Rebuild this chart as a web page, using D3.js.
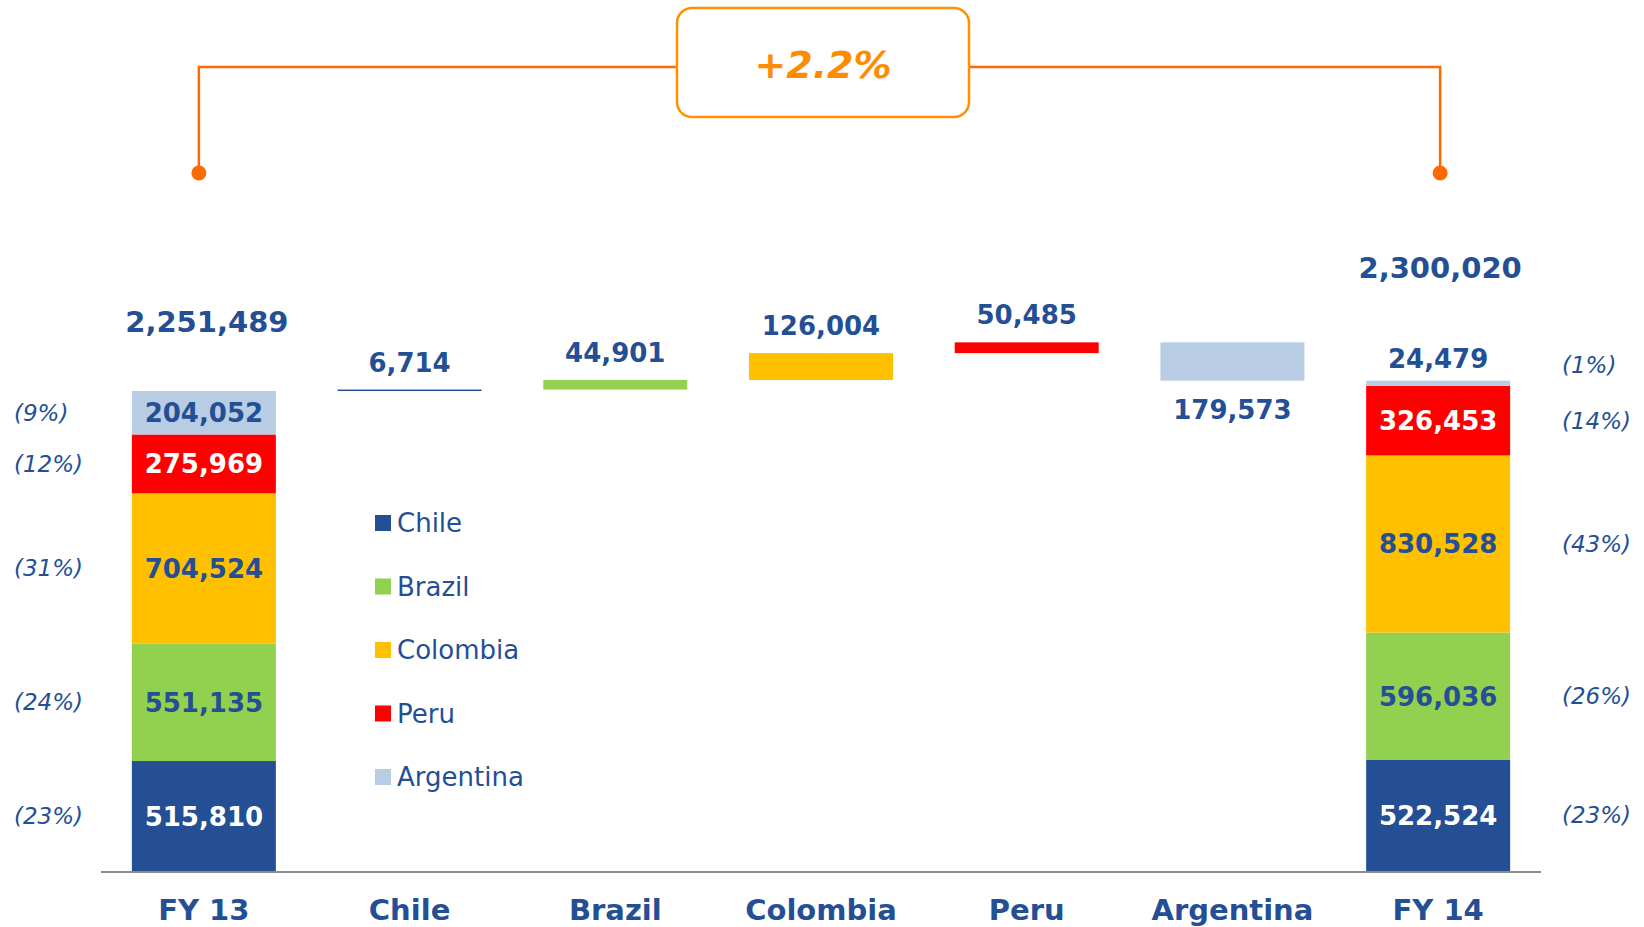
<!DOCTYPE html>
<html lang="en">
	<head>
		<meta charset="utf-8">
		<title>FY13 - FY14 bridge</title>
		<script type="text/javascript" src="https://cdn.jsdelivr.net/npm/d3@7"></script>
		<style type="text/css">
			body{
				margin: 0;
				background: #fff;
			}
		</style>
	</head>
	<body>
		<script type="text/javascript">

			// data
			var categories = ["FY 13", "Chile", "Brazil", "Colombia", "Peru", "Argentina", "FY 14"];
			var countries = ["Chile", "Brazil", "Colombia", "Peru", "Argentina"];
			var fy13 = [515810, 551135, 704524, 275969, 204052];
			var fy14 = [522524, 596036, 830528, 326453, 24479];
			var fy13Pct = ["(23%)", "(24%)", "(31%)", "(12%)", "(9%)"];
			var fy14Pct = ["(23%)", "(26%)", "(43%)", "(14%)", "(1%)"];
			var totals = [2251489, 2300020];
			var changes = [6714, 44901, 126004, 50485, -179573];
			var growthLabel = "+2.2%";

			var colors = ["#244f94", "#92d050", "#ffc000", "#ff0000", "#b8cce4"];
			var labelColors = ["#fff", "#244f94", "#244f94", "#fff", "#244f94"];
			var blue = "#244f94";
			var font = "DejaVu Sans, Verdana, sans-serif";

			var W = 1644, H = 927;
			var svg = d3.select("body")
						.append("svg")
						.attr("width", W)
						.attr("height", H);

			var x = d3.scaleBand()
						.domain(categories)
						.range([101, 1541])
						.paddingInner(0.3)
						.paddingOuter(0.15);

			var y = d3.scaleLinear()
						.domain([0, 2500000])
						.range([871, 338]);

			var bw = x.bandwidth();
			var fmt = d3.format(",");

			//stacked end bars
			function stackBar(cat, vals, pcts, pctX) {
				var cum = 0;
				var segs = vals.map(function(v, i) {
					var s = {i: i, v: v, y0: cum, y1: cum + v, pct: pcts[i]};
					cum += v;
					return s;
				});
				var g = svg.append("g").attr("class", "stack");
				g.selectAll("rect")
					.data(segs)
					.enter()
					.append("rect")
					.attr("x", x(cat))
					.attr("y", function(d) {return y(d.y1);})
					.attr("width", bw)
					.attr("height", function(d) {return y(d.y0) - y(d.y1);})
					.attr("fill", function(d) {return colors[d.i];});

				g.selectAll(".val")
					.data(segs)
					.enter()
					.append("text")
					.attr("class", "val")
					.attr("x", x(cat) + bw / 2)
					.attr("y", function(d) {
						var h = y(d.y0) - y(d.y1);
						if (h < 30) return y(d.y1) - 13;		//too small, put above
						return (y(d.y0) + y(d.y1)) / 2 + 9.5;
					})
					.attr("text-anchor", "middle")
					.attr("font-family", font)
					.attr("font-weight", "bold")
					.attr("font-size", 26)
					.attr("fill", function(d) {
						var h = y(d.y0) - y(d.y1);
						return h < 30 ? blue : labelColors[d.i];
					})
					.text(function(d) {return fmt(d.v);});

				g.selectAll(".pct")
					.data(segs)
					.enter()
					.append("text")
					.attr("class", "pct")
					.attr("x", pctX)
					.attr("y", function(d) {
						var h = y(d.y0) - y(d.y1);
						if (h < 30) return y(d.y1) - 8;
						return (y(d.y0) + y(d.y1)) / 2 + 8;
					})
					.attr("font-family", font)
					.attr("font-style", "italic")
					.attr("font-size", 23)
					.attr("fill", blue)
					.text(function(d) {return d.pct;});

				return cum;
			}

			stackBar("FY 13", fy13, fy13Pct, 14);
			stackBar("FY 14", fy14, fy14Pct, 1562);

			//totals
			svg.append("text")
				.attr("x", x("FY 13") + bw / 2 + 3)
				.attr("y", y(totals[0]) - 59)
				.attr("text-anchor", "middle")
				.attr("font-family", font)
				.attr("font-weight", "bold")
				.attr("font-size", 29)
				.attr("fill", blue)
				.text(fmt(totals[0]));

			svg.append("text")
				.attr("x", x("FY 14") + bw / 2 + 2)
				.attr("y", y(totals[1]) - 103)
				.attr("text-anchor", "middle")
				.attr("font-family", font)
				.attr("font-weight", "bold")
				.attr("font-size", 29)
				.attr("fill", blue)
				.text(fmt(totals[1]));

			//floating change bars
			var run = totals[0];
			var steps = changes.map(function(c, i) {
				var s = {cat: categories[i + 1], i: i, c: c, from: run, to: run + c};
				run += c;
				return s;
			});

			var wf = svg.append("g").attr("class", "waterfall");
			wf.selectAll("rect")
				.data(steps)
				.enter()
				.append("rect")
				.attr("x", function(d) {return x(d.cat);})
				.attr("y", function(d) {return y(Math.max(d.from, d.to));})
				.attr("width", bw)
				.attr("height", function(d) {return Math.max(1.5, Math.abs(y(d.from) - y(d.to)));})
				.attr("fill", function(d) {return colors[d.i];});

			wf.selectAll("text")
				.data(steps)
				.enter()
				.append("text")
				.attr("x", function(d) {return x(d.cat) + bw / 2;})
				.attr("y", function(d) {
					if (d.c >= 0) return y(d.to) - 18;
					return y(d.to) + 38;
				})
				.attr("text-anchor", "middle")
				.attr("font-family", font)
				.attr("font-weight", "bold")
				.attr("font-size", 26)
				.attr("fill", blue)
				.text(function(d) {return fmt(Math.abs(d.c));});

			//axis line + category labels
			svg.append("line")
				.attr("x1", 101)
				.attr("x2", 1541)
				.attr("y1", y(0) + 1)
				.attr("y2", y(0) + 1)
				.attr("stroke", "#8c8c8c")
				.attr("stroke-width", 2);

			svg.selectAll(".cat")
				.data(categories)
				.enter()
				.append("text")
				.attr("class", "cat")
				.attr("x", function(d) {return x(d) + bw / 2;})
				.attr("y", 920)
				.attr("text-anchor", "middle")
				.attr("font-family", font)
				.attr("font-weight", "bold")
				.attr("font-size", 29)
				.attr("fill", blue)
				.text(function(d) {return d;});

			//legend
			var legend = svg.append("g").attr("class", "legend");
			var lg = legend.selectAll("g")
				.data(countries)
				.enter()
				.append("g")
				.attr("transform", function(d, i) {return "translate(375," + (523 + i * 63.5) + ")";});
			lg.append("rect")
				.attr("x", 0)
				.attr("y", -8)
				.attr("width", 16)
				.attr("height", 16)
				.attr("fill", function(d, i) {return colors[i];});
			lg.append("text")
				.attr("x", 22)
				.attr("y", 9)
				.attr("font-family", font)
				.attr("font-size", 26)
				.attr("fill", blue)
				.text(function(d) {return d;});

			//growth bracket
			var cx13 = x("FY 13") + bw / 2 - 5;
			var cx14 = x("FY 14") + bw / 2 + 2;
			var bracketY = 67, dotY = 173;
			var boxX = 677, boxW = 292, boxY = 8, boxH = 109;
			var br = svg.append("g").attr("class", "bracket");
			br.append("path")
				.attr("d", "M" + cx13 + "," + dotY + "V" + bracketY + "H" + boxX)
				.attr("fill", "none")
				.attr("stroke", "#ff6a00")
				.attr("stroke-width", 2.5);
			br.append("path")
				.attr("d", "M" + (boxX + boxW) + "," + bracketY + "H" + cx14 + "V" + dotY)
				.attr("fill", "none")
				.attr("stroke", "#ff6a00")
				.attr("stroke-width", 2.5);
			br.selectAll("circle")
				.data([cx13, cx14])
				.enter()
				.append("circle")
				.attr("cx", function(d) {return d;})
				.attr("cy", dotY)
				.attr("r", 7.5)
				.attr("fill", "#ff6a00");
			br.append("rect")
				.attr("x", boxX)
				.attr("y", boxY)
				.attr("width", boxW)
				.attr("height", boxH)
				.attr("rx", 15)
				.attr("fill", "#fff")
				.attr("stroke", "#ff9000")
				.attr("stroke-width", 2.5);
			br.append("text")
				.attr("x", boxX + boxW / 2)
				.attr("y", 78)
				.attr("text-anchor", "middle")
				.attr("font-family", font)
				.attr("font-weight", "bold")
				.attr("font-style", "italic")
				.attr("font-size", 38)
				.attr("fill", "#ff8c00")
				.text(growthLabel);

		</script>
	</body>
</html>
